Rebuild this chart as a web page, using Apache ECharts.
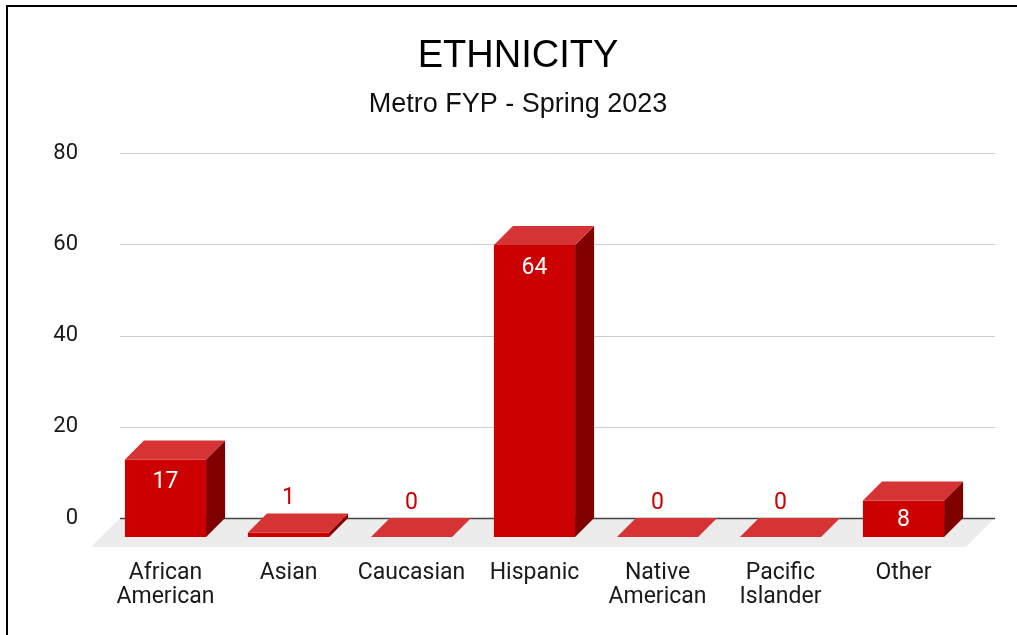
<!DOCTYPE html>
<html>
<head>
<meta charset="utf-8">
<script src="https://cdn.jsdelivr.net/npm/echarts@6/dist/echarts.min.js"></script>
<style>
    html, body { margin: 0; padding: 0; background: #fff; }
    #main { width: 1017px; height: 635px; }
</style>
</head>
<body>
<div id="main"></div>
<script>
// chart data
var categories = ['African\nAmerican', 'Asian', 'Caucasian', 'Hispanic', 'Native\nAmerican', 'Pacific\nIslander', 'Other'];
var counts = [17, 1, 0, 64, 0, 0, 8];
var yTicks = [0, 20, 40, 60, 80];

var myChart = echarts.init(document.getElementById('main'));

var DEPTH = 19;       // front face offset of the bars
var FLOOR = 29;       // depth of the grey floor

// floor, grid lines and base line
function renderFloor(params, api) {
    var cs = params.coordSys;
    var left = cs.x - 3, right = cs.x + cs.width + 11;
    var by = api.coord([0, 0])[1];
    var children = [{
        type: 'polygon',
        shape: { points: [[left, by], [right, by], [right - FLOOR, by + FLOOR], [left - FLOOR, by + FLOOR]] },
        style: { fill: '#ececec' }
    }];
    yTicks.forEach(function (t) {
        var y = Math.round(api.coord([0, t])[1]) + 0.5;
        children.push({
            type: 'line',
            shape: { x1: left, y1: y, x2: right, y2: y },
            style: t === 0 ? { stroke: '#444', lineWidth: 1.5 } : { stroke: '#ccc', lineWidth: 1 }
        });
    });
    return { type: 'group', children: children };
}

// 3d bar: front, top and side faces
function renderBar(params, api) {
    var idx = api.value(0);
    var val = api.value(1);
    var top = api.coord([idx, val]);
    var base = api.coord([idx, 0]);
    var w = api.size([1, 0])[0] * 0.66;
    var bl = top[0] - w / 2, br = top[0] + w / 2;
    var by0 = base[1], by1 = top[1];
    var fl = bl - DEPTH, fr = br - DEPTH, fy0 = by0 + DEPTH, fy1 = by1 + DEPTH;
    var children = [{
        type: 'rect',
        shape: { x: fl, y: fy1, width: w, height: fy0 - fy1 },
        style: { fill: '#cc0000' }
    }, {
        type: 'polygon',
        shape: { points: [[fr, fy1], [br, by1], [br, by0], [fr, fy0]] },
        style: { fill: '#800000' }
    }, {
        type: 'polygon',
        shape: { points: [[fl, fy1], [fr, fy1], [br, by1], [bl, by1]] },
        style: { fill: '#d63434' }
    }];
    var inside = val >= 5;
    children.push({
        type: 'text',
        x: (fl + fr) / 2,
        y: inside ? fy1 + Math.min(22, (fy0 - fy1) / 2) + 1 : by1 - 15,
        style: {
            text: String(val),
            fill: inside ? '#fff' : '#cc0000',
            font: '23px Roboto',
            align: 'center',
            verticalAlign: 'middle'
        }
    });
    return { type: 'group', children: children };
}

var option = {
    animation: false,
    backgroundColor: '#fff',
    graphic: [{
        type: 'rect', shape: { x: 6, y: 5, width: 2, height: 630 }, style: { fill: '#000' }
    }, {
        type: 'rect', shape: { x: 6, y: 5, width: 1011, height: 2 }, style: { fill: '#000' }
    }, {
        type: 'text', x: 518, y: 57,
        style: { text: 'ETHNICITY', font: '38px "Liberation Sans"', fill: '#000', align: 'center', verticalAlign: 'middle' }
    }, {
        type: 'text', x: 518, y: 105,
        style: { text: 'Metro FYP - Spring 2023', font: '27px "Liberation Sans"', fill: '#111', align: 'center', verticalAlign: 'middle' }
    }],
    grid: {
        left: 123,
        right: 33,
        top: 153,
        bottom: 117
    },
    xAxis: {
        type: 'category',
        data: categories,
        axisLine: { show: false },
        axisTick: { show: false },
        axisLabel: {
            interval: 0,
            hideOverlap: false,
            fontFamily: 'Roboto',
            fontSize: 23,
            lineHeight: 24,
            color: '#1a1a1a',
            margin: 43,
            padding: [0, 38, 0, 0]
        }
    },
    yAxis: {
        type: 'value',
        min: 0,
        max: 80,
        interval: 20,
        axisLine: { show: false },
        axisTick: { show: false },
        splitLine: { show: false },
        axisLabel: {
            fontFamily: 'Roboto',
            fontSize: 22,
            color: '#1a1a1a',
            margin: 45
        }
    },
    series: [{
        type: 'custom',
        z: 1,
        renderItem: renderFloor,
        data: [[0]]
    }, {
        type: 'custom',
        z: 2,
        renderItem: renderBar,
        data: counts.map(function (v, i) { return [i, v]; })
    }]
};

myChart.setOption(option);
</script>
</body>
</html>
